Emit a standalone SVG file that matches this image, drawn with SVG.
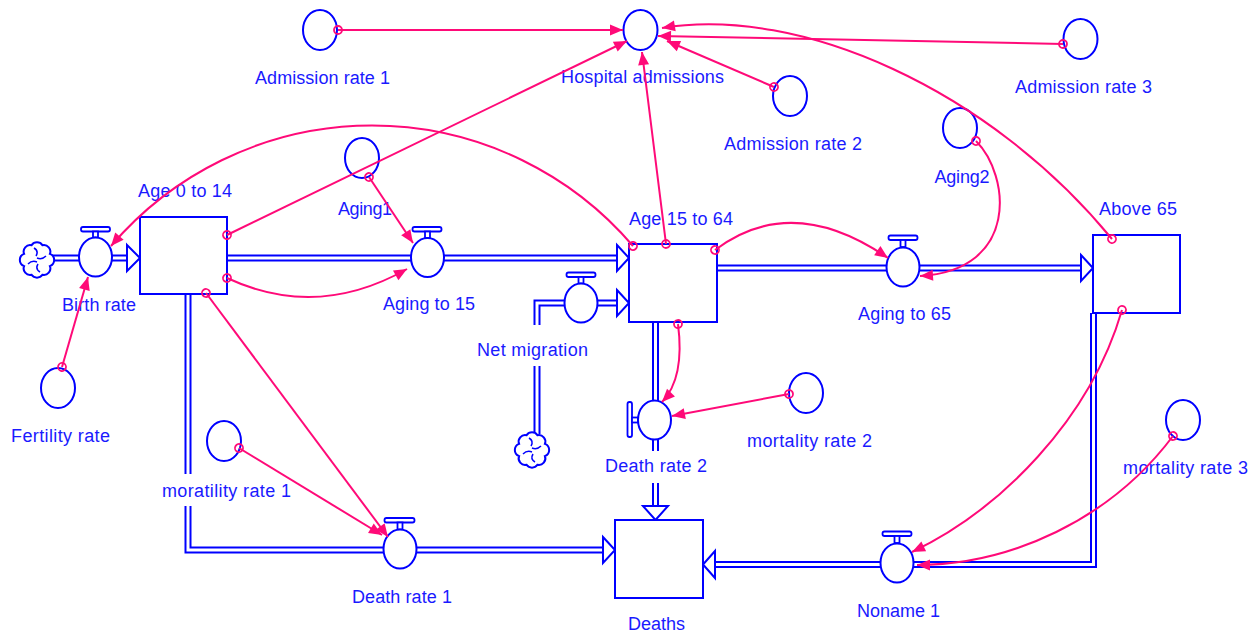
<svg xmlns="http://www.w3.org/2000/svg" xmlns:xlink="http://www.w3.org/1999/xlink" width="1255" height="633" viewBox="0 0 1255 633">
  <style>
    .lbl { font-family: "Liberation Sans", Arial, sans-serif; font-size: 18px; fill: #1a1aff; text-anchor: middle; }
    .stock { fill: #ffffff; stroke: #0000ff; stroke-width: 2; }
    .aux { fill: #ffffff; stroke: #0000ff; stroke-width: 2; }
    .valve { fill: #ffffff; stroke: #0000ff; stroke-width: 2; }
    .handle { fill: #ffffff; stroke: #0000ff; stroke-width: 1.8; }
    .pipe-out { fill: none; stroke: #0000ff; stroke-width: 7; stroke-linejoin: miter; }
    .pipe-in { fill: none; stroke: #ffffff; stroke-width: 3; stroke-linejoin: miter; }
    .pipe-head { fill: #ffffff; stroke: #0000ff; stroke-width: 2; stroke-linejoin: miter; }
    .cloud { fill: #ffffff; stroke: #0000ff; stroke-width: 2; }
    .swirl { fill: none; stroke: #0000ff; stroke-width: 1.5; }
    .link { fill: none; stroke: #ff0a78; stroke-width: 2; marker-start: url(#tail); marker-end: url(#head); }
    .bg { fill: #ffffff; }
  </style>
  <defs>
    <marker id="head" markerUnits="userSpaceOnUse" markerWidth="13" markerHeight="11" viewBox="0 0 13 11" refX="13" refY="5.5" orient="auto" overflow="visible">
      <path d="M0,0 L13,5.5 L0,11 Z" fill="#ff0a78"/>
    </marker>
    <marker id="tail" markerUnits="userSpaceOnUse" markerWidth="10" markerHeight="10" viewBox="-5 -5 10 10" refX="0" refY="0" orient="auto" overflow="visible">
      <circle cx="0" cy="0" r="4" fill="none" stroke="#ff0a78" stroke-width="1.8"/>
    </marker>
    <g id="cloud">
      <path class="cloud" d="M12.9,6.1 A6.5,6.5 0 0 1 5.4,14.8 A6.5,6.5 0 0 1 -5.4,14.8 A6.5,6.5 0 0 1 -12.9,6.1 A6.5,6.5 0 0 1 -12.9,-6.1 A6.5,6.5 0 0 1 -5.4,-14.8 A6.5,6.5 0 0 1 5.4,-14.8 A6.5,6.5 0 0 1 12.9,-6.1 A6.5,6.5 0 0 1 12.9,6.1 Z"/>
      <path class="swirl" d="M-3,-12 q5,3 2,8 M9,-4 q-4,4 -9,2 M3,12 q-5,-3 -2,-8 M-9,4 q4,-4 9,-2"/>
    </g>
  </defs>

  <rect width="1255" height="633" fill="#ffffff"/>

  <!-- material flows (double-line pipes) -->
  <g id="flows">
    <path class="pipe-out" d="M52,258 H128"/>
    <path class="pipe-in" d="M52,258 H128"/>
    <path class="pipe-out" d="M227,258 H618"/>
    <path class="pipe-in" d="M227,258 H618"/>
    <path class="pipe-out" d="M537,434 V303 H618"/>
    <path class="pipe-in" d="M537,434 V303 H618"/>
    <path class="pipe-out" d="M655.5,322 V507"/>
    <path class="pipe-in" d="M655.5,322 V507"/>
    <path class="pipe-out" d="M717,268 H1082"/>
    <path class="pipe-in" d="M717,268 H1082"/>
    <path class="pipe-out" d="M1093.5,313 V564.5 H714"/>
    <path class="pipe-in" d="M1093.5,313 V564.5 H714"/>
    <path class="pipe-out" d="M188,294 V550 H604"/>
    <path class="pipe-in" d="M188,294 V550 H604"/>
    <path class="pipe-head" d="M127,245 L140,258 L127,271 Z"/>
    <path class="pipe-head" d="M617,245 L629,258 L617,271 Z"/>
    <path class="pipe-head" d="M617,290 L629,303 L617,316 Z"/>
    <path class="pipe-head" d="M1081,255 L1093,268 L1081,281 Z"/>
    <path class="pipe-head" d="M643,506 L655.5,520 L668,506 Z"/>
    <path class="pipe-head" d="M603,537 L615,550 L603,563 Z"/>
    <path class="pipe-head" d="M715,551 L703,564.5 L715,578 Z"/>
    <use xlink:href="#cloud" href="#cloud" x="37" y="260"/>
    <use xlink:href="#cloud" href="#cloud" x="532" y="450"/>
  </g>

  <!-- stocks -->
  <g id="age-0-14">
    <rect class="stock" x="140" y="217" width="87" height="77"/>
    <text class="lbl" x="185" y="197" textLength="94">Age 0 to 14</text>
  </g>
  <g id="age-15-64">
    <rect class="stock" x="629" y="244" width="88" height="78"/>
    <text class="lbl" x="681" y="225" textLength="104">Age 15 to 64</text>
  </g>
  <g id="above-65">
    <rect class="stock" x="1093" y="235" width="87" height="78"/>
    <text class="lbl" x="1138" y="215" textLength="78">Above 65</text>
  </g>
  <g id="deaths">
    <rect class="stock" x="615" y="520" width="88" height="78"/>
    <text class="lbl" x="656.5" y="630" textLength="57">Deaths</text>
  </g>

  <!-- flow valves -->
  <g id="birth-rate">
    <rect class="handle" x="81" y="227" width="29" height="4.5" rx="2"/>
    <rect class="handle" x="93" y="231.5" width="5" height="6"/>
    <ellipse class="valve" cx="95.5" cy="257" rx="16.5" ry="19.5"/>
    <text class="lbl" x="99" y="311" textLength="74">Birth rate</text>
  </g>
  <g id="aging-to-15">
    <rect class="handle" x="412.5" y="227" width="29" height="4.5" rx="2"/>
    <rect class="handle" x="425" y="231.5" width="5" height="6.5"/>
    <ellipse class="valve" cx="427.5" cy="257.5" rx="16.5" ry="19.5"/>
    <text class="lbl" x="429" y="310" textLength="92">Aging to 15</text>
  </g>
  <g id="net-migration">
    <rect class="bg" x="474" y="325" width="118" height="41"/>
    <rect class="handle" x="566.5" y="272.5" width="29" height="4.5" rx="2"/>
    <rect class="handle" x="578.5" y="277" width="5" height="6.5"/>
    <ellipse class="valve" cx="581" cy="303" rx="16.5" ry="19.5"/>
    <text class="lbl" x="532.5" y="356" textLength="111">Net migration</text>
  </g>
  <g id="death-rate-2">
    <rect class="bg" x="603" y="451" width="106" height="32"/>
    <rect class="handle" x="627.5" y="402" width="4.5" height="35" rx="2"/>
    <rect class="handle" x="632" y="417.5" width="6" height="5"/>
    <ellipse class="valve" cx="654.5" cy="420" rx="16.5" ry="19.5"/>
    <text class="lbl" x="656" y="472" textLength="102">Death rate 2</text>
  </g>
  <g id="aging-to-65">
    <rect class="handle" x="888.5" y="235.5" width="29" height="4.5" rx="2"/>
    <rect class="handle" x="900.5" y="240" width="5" height="7"/>
    <ellipse class="valve" cx="903" cy="267" rx="16.5" ry="19.5"/>
    <text class="lbl" x="904.5" y="320" textLength="93">Aging to 65</text>
  </g>
  <g id="noname-1">
    <rect class="handle" x="882.5" y="531.5" width="29" height="4.5" rx="2"/>
    <rect class="handle" x="894.5" y="536" width="5" height="7"/>
    <ellipse class="valve" cx="897" cy="563" rx="16.5" ry="19.5"/>
    <text class="lbl" x="898.5" y="617" textLength="83">Noname 1</text>
  </g>
  <g id="death-rate-1">
    <rect class="handle" x="384.5" y="518" width="30" height="4.5" rx="2"/>
    <rect class="handle" x="397.5" y="522.5" width="5" height="7"/>
    <ellipse class="valve" cx="400" cy="549" rx="16.5" ry="19.5"/>
    <text class="lbl" x="402" y="603" textLength="100">Death rate 1</text>
  </g>

  <!-- auxiliary variables -->
  <g id="admission-rate-1">
    <ellipse class="aux" cx="320" cy="30" rx="17" ry="20"/>
    <text class="lbl" x="322.5" y="84" textLength="135">Admission rate 1</text>
  </g>
  <g id="hospital-admissions">
    <ellipse class="aux" cx="640.5" cy="30" rx="17" ry="20"/>
    <text class="lbl" x="642.5" y="83" textLength="163">Hospital admissions</text>
  </g>
  <g id="admission-rate-2">
    <ellipse class="aux" cx="790" cy="96" rx="17" ry="20"/>
    <text class="lbl" x="793" y="150" textLength="138">Admission rate 2</text>
  </g>
  <g id="admission-rate-3">
    <ellipse class="aux" cx="1080.5" cy="39" rx="17" ry="20"/>
    <text class="lbl" x="1083.5" y="93" textLength="137">Admission rate 3</text>
  </g>
  <g id="aging2">
    <ellipse class="aux" cx="960" cy="128" rx="17" ry="20"/>
    <text class="lbl" x="962" y="183" textLength="55">Aging2</text>
  </g>
  <g id="aging1">
    <ellipse class="aux" cx="362" cy="158" rx="17" ry="20"/>
    <text class="lbl" x="365" y="215" textLength="54">Aging1</text>
  </g>
  <g id="fertility-rate">
    <ellipse class="aux" cx="58" cy="388" rx="17" ry="20"/>
    <text class="lbl" x="60.5" y="442" textLength="99">Fertility rate</text>
  </g>
  <g id="moratility-rate-1">
    <rect class="bg" x="160" y="474" width="135" height="32"/>
    <ellipse class="aux" cx="224" cy="441" rx="17" ry="20"/>
    <text class="lbl" x="226.5" y="497" textLength="129">moratility rate 1</text>
  </g>
  <g id="mortality-rate-2">
    <ellipse class="aux" cx="806" cy="393" rx="17" ry="20"/>
    <text class="lbl" x="809.5" y="447" textLength="125">mortality rate 2</text>
  </g>
  <g id="mortality-rate-3">
    <ellipse class="aux" cx="1183" cy="420" rx="17" ry="20"/>
    <text class="lbl" x="1185.5" y="474" textLength="125">mortality rate 3</text>
  </g>

  <!-- information links -->
  <g id="connectors">
    <path class="link" d="M338,30 L623,30"/>
    <path class="link" d="M227,235 L627,41"/>
    <path class="link" d="M666,244 L642,52"/>
    <path class="link" d="M774,87 L667,41"/>
    <path class="link" d="M1063,44 L658,36"/>
    <path class="link" d="M1112,239 C990,90 800,5 662,28"/>
    <path class="link" d="M633,246 A343,343 0 0 0 111,246"/>
    <path class="link" d="M62,367 L88,277"/>
    <path class="link" d="M369,177 L413,243"/>
    <path class="link" d="M227,278 Q317,320 407,269"/>
    <path class="link" d="M206,293 L388,537"/>
    <path class="link" d="M239,448 L382,535"/>
    <path class="link" d="M678,324 Q685,378 662,402"/>
    <path class="link" d="M789,394 L672,416"/>
    <path class="link" d="M715,250 Q792,192 888,258"/>
    <path class="link" d="M976,141 C1010,175 1020,270 920,276"/>
    <path class="link" d="M1122,310 C1090,420 1000,510 912,552"/>
    <path class="link" d="M1173,436 C1110,520 1010,565 917,565"/>
  </g>
</svg>
